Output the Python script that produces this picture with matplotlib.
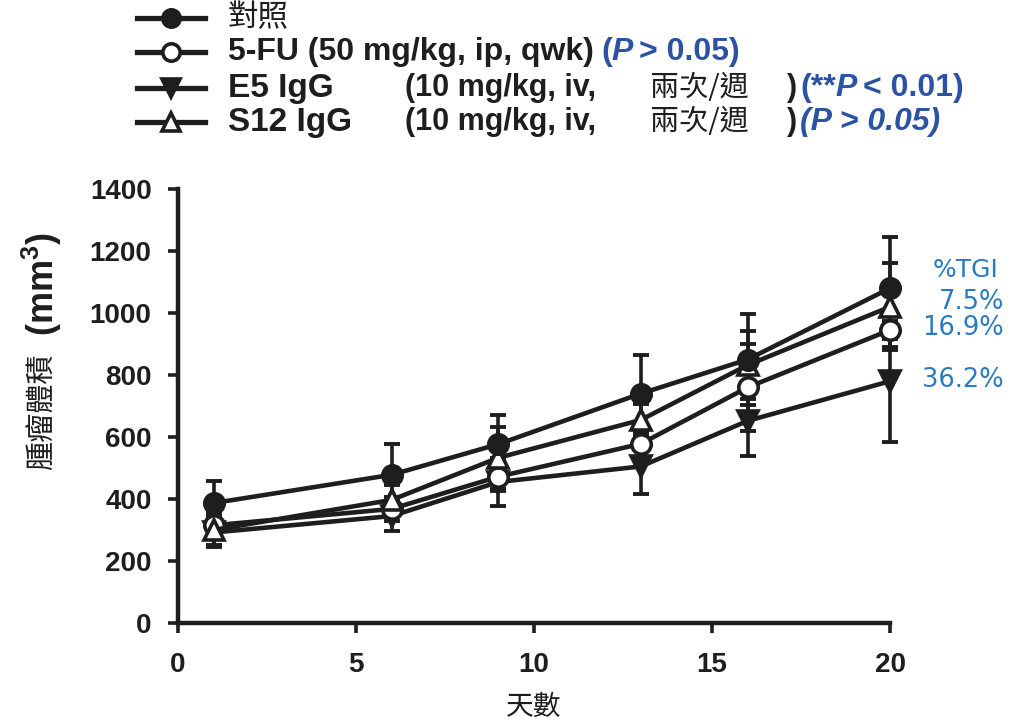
import matplotlib
matplotlib.use('Agg')
import matplotlib.pyplot as plt
from matplotlib.lines import Line2D

plt.rcParams['font.family'] = ['Liberation Sans', 'Noto Sans CJK TC']
plt.rcParams['mathtext.fontset'] = 'custom'
plt.rcParams['mathtext.bf'] = 'Liberation Sans:bold'
plt.rcParams['mathtext.default'] = 'bf'

# data (tumour volume, mm3)
days = [1, 6, 9, 13, 16, 20]
ctrl = [387, 478, 577, 740, 850, 1080]
ctrl_err = [72, 100, 95, 125, 148, 165]
fu = [315, 368, 472, 578, 760, 945]
fu_err = [30, 40, 45, 60, 140, 55]
e5 = [292, 345, 455, 505, 652, 780]
e5_err = [40, 48, 78, 90, 113, 195]
s12 = [300, 397, 533, 655, 832, 1020]
s12_err = [55, 48, 100, 50, 110, 140]

tgi_labels = ['7.5%', '16.9%', '36.2%']

ink = '#1e1e1e'
blue = '#2b52a3'
tgi_blue = '#2a7bc2'
cjk = 'Noto Sans CJK TC'
W, H = 1013, 724

fig = plt.figure(figsize=(W / 100, H / 100), dpi=100)
ax = fig.add_axes([178 / W, 1 - 623 / H, (890 - 178) / W, (623 - 189) / H])

series = [
    (e5, e5_err, 'v', ink),
    (fu, fu_err, 'o', 'white'),
    (s12, s12_err, '^', 'white'),
    (ctrl, ctrl_err, 'o', ink),
]
for y, err, m, fc in series:
    ax.errorbar(days, y, yerr=err, fmt='none', ecolor=ink, elinewidth=2.6,
                capsize=6, capthick=2.8, zorder=2, clip_on=False)
for y, err, m, fc in series:
    ax.plot(days, y, color=ink, lw=3.3, marker=m, ms=14, mfc=fc, mec=ink,
            mew=2.6, zorder=3, clip_on=False)

ax.set_xlim(0, 20)
ax.set_ylim(0, 1400)
ax.set_xticks([0, 5, 10, 15, 20])
ax.set_yticks(range(0, 1401, 200))
for s in ['top', 'right']:
    ax.spines[s].set_visible(False)
for s in ['left', 'bottom']:
    ax.spines[s].set_linewidth(3.2)
    ax.spines[s].set_color(ink)
ax.tick_params(direction='out', length=7, width=2.6, colors=ink, labelsize=20)
ax.tick_params(axis='y', pad=12)
ax.tick_params(axis='x', pad=14)
for lbl in ax.get_xticklabels() + ax.get_yticklabels():
    lbl.set_fontweight('bold')

ax.set_xlabel('天數', family=cjk, fontsize=20, color=ink, labelpad=10)


def px(x, y):
    return x / W, 1 - y / H


fig.text(*px(43, 412), '腫瘤體積', family=cjk, fontsize=21, rotation=90,
         ha='center', va='center', color=ink)
fig.text(*px(42, 284), '(mm$^3$)', fontsize=26, fontweight='bold', rotation=90,
         ha='center', va='center', color=ink)

# %TGI notes
fig.text(*px(966, 270), '%TGI', family='DejaVu Sans', fontsize=18,
         ha='center', va='center', color=tgi_blue)
for lab, yy in zip(tgi_labels, [302, 328, 380]):
    fig.text(*px(1004, yy), lab, family='DejaVu Sans', fontsize=18.5,
             ha='right', va='center', color=tgi_blue)

# legend drawn by hand
renderer = fig.canvas.get_renderer()


def put_parts(x, y, parts):
    for s, kw in parts:
        gap = kw.pop('gap', 0)
        x += gap
        t = fig.text(*px(x, y), s, ha='left', va='center', **kw)
        bb = t.get_window_extent(renderer=renderer)
        x = bb.x1


bold = dict(fontsize=22, fontweight='bold', color=ink)
bb_blue = dict(fontsize=23, fontweight='bold', color=blue)
cj = dict(family=cjk, fontsize=21, color=ink)
rows = [(18, 'o', ink), (52, 'o', 'white'), (88, 'v', ink), (122, '^', 'white')]
for yy, m, fc in rows:
    fx0, fy = px(137, yy)
    fx1, _ = px(205, yy)
    fig.add_artist(Line2D([fx0, (fx0 + fx1) / 2, fx1], [fy, fy, fy],
                          transform=fig.transFigure, color=ink, lw=3.8,
                          marker=m, markevery=[1], ms=12.5, mfc=fc, mec=ink,
                          mew=2.6))

put_parts(228, 18, [('對照', dict(cj, fontsize=22))])
put_parts(228, 52, [
    ('5-FU (50 mg/kg, ip, qwk)', dict(bold, fontsize=23)),
    ('(', dict(bb_blue, gap=7)),
    ('P', dict(bb_blue, style='italic')),
    ('> 0.05)', dict(bb_blue, gap=6)),
])
put_parts(228, 88, [('E5 IgG', dict(bold, fontsize=24))])
put_parts(228, 122, [('S12 IgG', dict(bold, fontsize=24))])
for yy in [88, 122]:
    put_parts(405, yy, [('(10 mg/kg, iv,', dict(bold))])
    put_parts(650, yy, [('兩次/週', dict(cj))])
    put_parts(787, yy, [(')', dict(bold))])
put_parts(800, 88, [
    ('(**', dict(bb_blue)),
    ('P', dict(bb_blue, style='italic')),
    ('< 0.01)', dict(bb_blue, gap=6)),
])
put_parts(800, 122, [('(P > 0.05)', dict(bb_blue, style='italic'))])

fig.savefig('out.png', dpi=100)
